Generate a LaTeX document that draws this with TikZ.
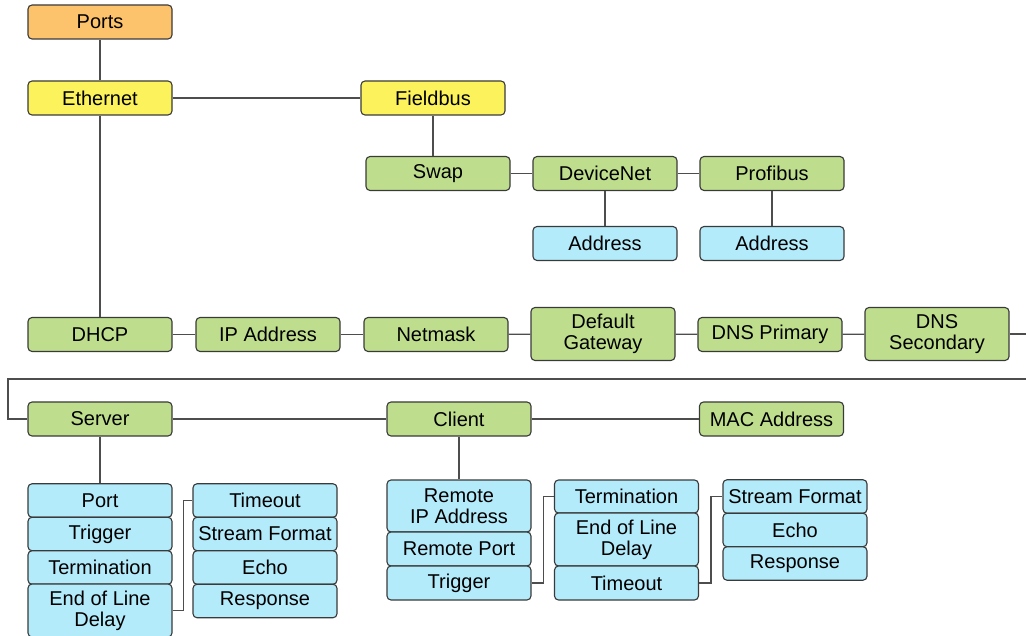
\documentclass[tikz,border=0pt]{standalone}
\usepackage{fontspec}
\setmainfont{Liberation Sans}
\usetikzlibrary{calc,positioning}

\definecolor{portorange}{HTML}{FDC26C}
\definecolor{busyellow}{HTML}{FBF25C}
\definecolor{setgreen}{HTML}{BEDE8D}
\definecolor{parblue}{HTML}{B3EBFB}
\definecolor{edgegray}{HTML}{3A3A3A}
\definecolor{wiregray}{HTML}{4D4D4D}

\tikzset{
  menubox/.style={draw=edgegray, line width=1.1pt, rounded corners=4pt,
    minimum width=144pt, minimum height=34pt, inner sep=0pt, align=center,
    font=\fontsize{20}{21}\selectfont},
  tallbox/.style={menubox, minimum height=53pt},
  wire/.style={draw=wiregray, line width=1.3pt},
}

\begin{document}
\begin{tikzpicture}[x=1pt, y=-1pt]
  \useasboundingbox (0,0) rectangle (1026,636);
  % top levels
  \node[menubox, fill=portorange] (ports) at (100,22) {Ports};
  \node[menubox, fill=busyellow] (ethernet) at (100,98) {Ethernet};
  \node[menubox, fill=busyellow] (fieldbus) at (433,98) {Fieldbus};
  % fieldbus branch
  \node[menubox, fill=setgreen] (swap) at (438,173.5) {Swap};
  \node[menubox, fill=setgreen] (devicenet) at (605,173.5) {DeviceNet};
  \node[menubox, fill=setgreen] (profibus) at (772,173.5) {Profibus};
  \node[menubox, fill=parblue] (dnaddr) at (605,243.5) {Address};
  \node[menubox, fill=parblue] (pbaddr) at (772,243.5) {Address};
  % ethernet settings row
  \node[menubox, fill=setgreen] (dhcp) at (100,334.5) {DHCP};
  \node[menubox, fill=setgreen] (ipaddr) at (268,334.5) {IP Address};
  \node[menubox, fill=setgreen] (netmask) at (436,334.5) {Netmask};
  \node[tallbox, fill=setgreen] (gateway) at (603,334) {Default\\Gateway};
  \node[menubox, fill=setgreen] (dnsprim) at (770,334.5) {DNS Primary};
  \node[tallbox, fill=setgreen] (dnssec) at (937,334) {DNS\\Secondary};
  % server / client row
  \node[menubox, fill=setgreen] (server) at (100,419) {Server};
  \node[menubox, fill=setgreen] (client) at (459,419) {Client};
  \node[menubox, fill=setgreen] (macaddr) at (771.5,419) {MAC Address};
  % server parameters
  \node[menubox, fill=parblue, minimum height=33.5pt] (sport) at (100,500.5) {Port};
  \node[menubox, fill=parblue, minimum height=33.5pt] (strigger) at (100,534) {Trigger};
  \node[menubox, fill=parblue, minimum height=33.5pt] (sterm) at (100,567.5) {Termination};
  \node[tallbox, fill=parblue] (seol) at (100,610.5) {End of Line\\Delay};
  \node[menubox, fill=parblue, minimum height=33.5pt] (stimeout) at (265,500.5) {Timeout};
  \node[menubox, fill=parblue, minimum height=33.5pt] (sformat) at (265,534) {Stream Format};
  \node[menubox, fill=parblue, minimum height=33.5pt] (secho) at (265,567.5) {Echo};
  \node[menubox, fill=parblue, minimum height=33.5pt] (sresp) at (265,601) {Response};
  % client parameters
  \node[tallbox, fill=parblue, minimum height=52pt] (cremip) at (459,506) {Remote\\IP Address};
  \node[menubox, fill=parblue] (cremport) at (459,549) {Remote Port};
  \node[menubox, fill=parblue] (ctrigger) at (459,583) {Trigger};
  \node[menubox, fill=parblue, minimum height=33pt] (cterm) at (626.5,496.5) {Termination};
  \node[tallbox, fill=parblue] (ceol) at (626.5,539.5) {End of Line\\Delay};
  \node[menubox, fill=parblue] (ctimeout) at (626.5,583) {Timeout};
  \node[menubox, fill=parblue, minimum height=33.5pt] (cformat) at (795,496.5) {Stream Format};
  \node[menubox, fill=parblue, minimum height=33.5pt] (cecho) at (795,530) {Echo};
  \node[menubox, fill=parblue, minimum height=33.5pt] (cresp) at (795,563.5) {Response};
  % wrap-around points
  \coordinate (wrapR) at (1036,379);
  \coordinate (wrapL) at (8,379);

  % connectors
  \draw[wire] (ports) -- (ethernet);
  \draw[wire] (ethernet) -- (fieldbus);
  \draw[wire] (ethernet) -- (dhcp);
  \draw[wire] (fieldbus.south) -- (fieldbus.south |- swap.north);
  \draw[wire] (swap) -- (devicenet);
  \draw[wire] (devicenet) -- (profibus);
  \draw[wire] (devicenet) -- (dnaddr);
  \draw[wire] (profibus) -- (pbaddr);
  \draw[wire] (dhcp) -- (ipaddr);
  \draw[wire] (ipaddr) -- (netmask);
  \draw[wire] (netmask) -- (gateway);
  \draw[wire] (gateway) -- (dnsprim);
  \draw[wire] (dnsprim) -- (dnssec);
  \draw[wire] (dnssec.east) -| (wrapR) -- (wrapL) |- (server.west);
  \draw[wire] (server) -- (client);
  \draw[wire] (client) -- (macaddr);
  \draw[wire] (server) -- (sport);
  \draw[wire] (client) -- (cremip);
  \draw[wire] (seol.east) -- ++(11,0) |- (stimeout.west);
  \draw[wire] (ctrigger.east) -- ++(12,0) |- (cterm.west);
  \draw[wire] (ctimeout.east) -- ++(12,0) |- (cformat.west);
\end{tikzpicture}
\end{document}
